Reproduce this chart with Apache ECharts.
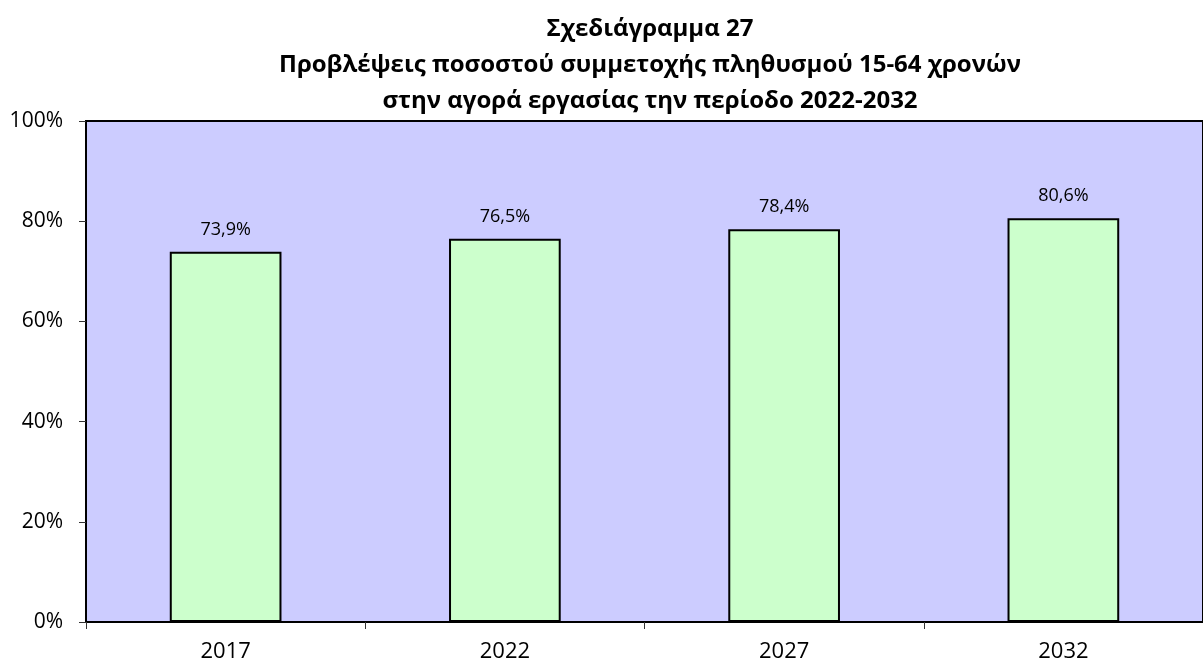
<!DOCTYPE html>
<html>
<head>
<meta charset="utf-8">
<style>
  html, body { margin: 0; padding: 0; background: #ffffff; }
  #chart { width: 1203px; height: 664px; }
</style>
<script src="https://cdn.jsdelivr.net/npm/echarts@6/dist/echarts.min.js"></script>
</head>
<body>
<div id="chart"></div>
<script>
// Participation rate of the 15-64 population in the labour market (%)
const years = ['2017', '2022', '2027', '2032'];
const participation = [73.9, 76.5, 78.4, 80.6];
const yTicks = [0, 20, 40, 60, 80, 100];

const titleLines = [
  'Σχεδιάγραμμα 27',
  'Προβλέψεις ποσοστού συμμετοχής πληθυσμού 15-64 χρονών',
  'στην αγορά εργασίας την περίοδο 2022-2032'
];

const FONT = 'Open Sans';
const fmt = v => v.toFixed(1).replace('.', ',') + '%';

const chart = echarts.init(document.getElementById('chart'), null, { renderer: 'canvas' });

chart.setOption({
  animation: false,
  backgroundColor: '#ffffff',
  title: {
    text: titleLines.join('\n'),
    left: 645,
    top: 6,
    textAlign: 'center',
    textStyle: { fontFamily: FONT, fontWeight: 'bold', fontSize: 24, lineHeight: 36, color: '#000000' }
  },
  grid: {
    left: 86, top: 121, right: -11, bottom: 42,
    show: true,
    backgroundColor: '#CCCCFF',
    borderColor: '#000000',
    borderWidth: 2
  },
  xAxis: {
    type: 'category',
    data: years,
    axisLine: { lineStyle: { color: '#000000', width: 2 } },
    axisTick: { show: true, length: 7, lineStyle: { color: '#333333', width: 1 } },
    axisLabel: { margin: 19, fontFamily: FONT, fontSize: 22, color: '#000000' }
  },
  yAxis: {
    type: 'value',
    min: yTicks[0],
    max: yTicks[yTicks.length - 1],
    interval: yTicks[1] - yTicks[0],
    axisLine: { show: true, lineStyle: { color: '#000000', width: 2 } },
    axisTick: { show: true, length: 7, lineStyle: { color: '#333333', width: 1 } },
    splitLine: { show: false },
    axisLabel: { margin: 23, fontFamily: FONT, fontSize: 21, color: '#000000', formatter: v => v + '%' }
  },
  series: [{
    type: 'bar',
    data: participation,
    barWidth: '40%',
    itemStyle: { color: '#CCFFCC', borderColor: '#000000', borderWidth: 2 },
    label: {
      show: true,
      position: 'top',
      distance: 13,
      fontFamily: FONT,
      fontSize: 18,
      color: '#000000',
      formatter: p => fmt(p.value)
    }
  }]
});
</script>
</body>
</html>
